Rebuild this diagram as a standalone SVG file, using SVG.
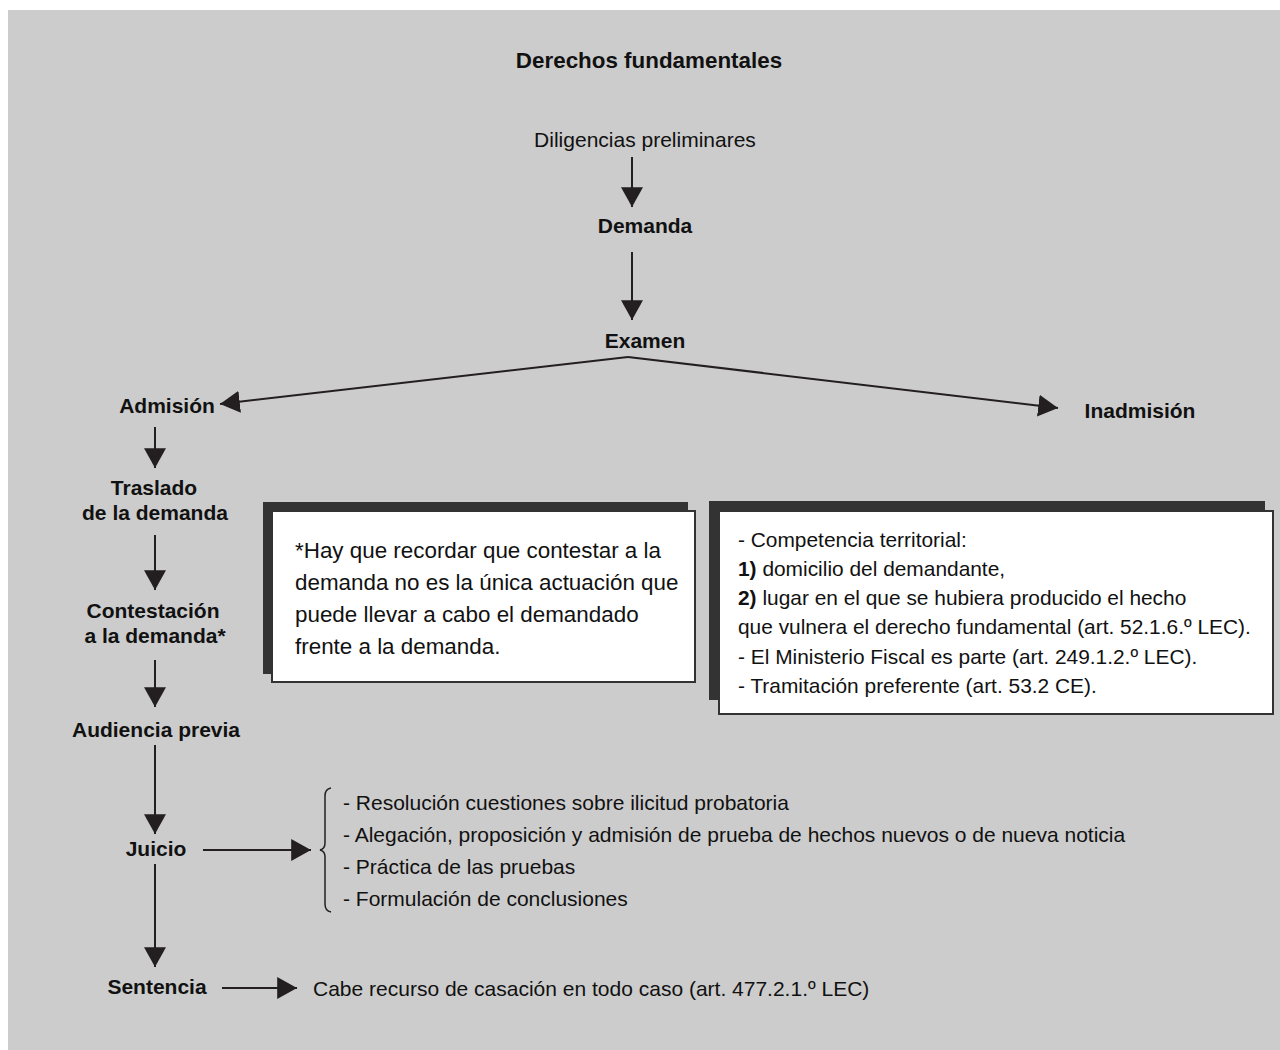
<svg xmlns="http://www.w3.org/2000/svg" width="1280" height="1050" viewBox="0 0 1280 1050">
<defs>
<marker id="ah" markerUnits="userSpaceOnUse" markerWidth="22" markerHeight="22" viewBox="0 0 20 20" refX="18" refY="10" orient="auto">
<path d="M0,0 L18,10 L0,20 Z" fill="#231f20"/>
</marker>
</defs>
<style>
.b{font-family:"Liberation Sans",Arial,sans-serif;font-weight:bold;font-size:21px;fill:#111;text-anchor:middle}
.n{font-family:"Liberation Sans",Arial,sans-serif;font-size:21px;fill:#111}
.c{stroke:#231f20;stroke-width:2;fill:none}
.sh{fill:#333}
.bx{fill:#fff;stroke:#333;stroke-width:2}
</style>
<rect x="8" y="10" width="1272" height="1040" fill="#cccccc"/>
<g id="title"><text class="b" style="font-size:22.4px" x="649" y="68">Derechos fundamentales</text></g>
<g id="diligencias"><text class="n" x="645" y="147" text-anchor="middle">Diligencias preliminares</text></g>
<g id="demanda"><text class="b" x="645" y="233">Demanda</text></g>
<g id="examen"><text class="b" x="645" y="348">Examen</text></g>
<g id="admision"><text class="b" x="167" y="413">Admisión</text></g>
<g id="inadmision"><text class="b" x="1140" y="418">Inadmisión</text></g>
<g id="traslado"><text class="b" x="154" y="495">Traslado</text><text class="b" x="155" y="520">de la demanda</text></g>
<g id="contestacion"><text class="b" x="153" y="618">Contestación</text><text class="b" x="155" y="643">a la demanda*</text></g>
<g id="audiencia"><text class="b" x="156" y="737">Audiencia previa</text></g>
<g id="juicio"><text class="b" x="156" y="856">Juicio</text></g>
<g id="sentencia"><text class="b" x="157" y="994">Sentencia</text></g>
<g id="nota">
<rect class="sh" x="263" y="502" width="425" height="172"/>
<rect class="bx" x="272" y="511" width="423" height="171"/>
<text class="n" style="font-size:22.4px" x="295" y="558">*Hay que recordar que contestar a la</text>
<text class="n" style="font-size:22.4px" x="295" y="590">demanda no es la única actuación que</text>
<text class="n" style="font-size:22.4px" x="295" y="622">puede llevar a cabo el demandado</text>
<text class="n" style="font-size:22.4px" x="295" y="654">frente a la demanda.</text>
</g>
<g id="competencia">
<rect class="sh" x="709" y="501" width="556" height="199"/>
<rect class="bx" x="719" y="511" width="554" height="203"/>
<text class="n" style="font-size:20.9px" x="738" y="547">- Competencia territorial:</text>
<text class="n" style="font-size:20.9px" x="738" y="576"><tspan font-weight="bold">1)</tspan> domicilio del demandante,</text>
<text class="n" style="font-size:20.9px" x="738" y="605"><tspan font-weight="bold">2)</tspan> lugar en el que se hubiera producido el hecho</text>
<text class="n" style="font-size:20.9px" x="738" y="634">que vulnera el derecho fundamental (art. 52.1.6.º LEC).</text>
<text class="n" style="font-size:20.9px" x="738" y="664">- El Ministerio Fiscal es parte (art. 249.1.2.º LEC).</text>
<text class="n" style="font-size:20.9px" x="738" y="693">- Tramitación preferente (art. 53.2 CE).</text>
</g>
<g id="juicio-lista">
<path class="c" style="stroke-width:1.5" d="M331,788 Q325,789 325,796 L325,843 Q325,849 320,850 Q325,851 325,857 L325,904 Q325,911 331,912"/>
<text class="n" x="343" y="810">- Resolución cuestiones sobre ilicitud probatoria</text>
<text class="n" x="343" y="842">- Alegación, proposición y admisión de prueba de hechos nuevos o de nueva noticia</text>
<text class="n" x="343" y="874">- Práctica de las pruebas</text>
<text class="n" x="343" y="906">- Formulación de conclusiones</text>
</g>
<g id="casacion"><text class="n" x="313" y="996">Cabe recurso de casación en todo caso (art. 477.2.1.º LEC)</text></g>
<g id="connectors">
<line class="c" x1="632" y1="157" x2="632" y2="207" marker-end="url(#ah)"/>
<line class="c" x1="632" y1="252" x2="632" y2="320" marker-end="url(#ah)"/>
<line class="c" x1="628" y1="357" x2="220" y2="404" marker-end="url(#ah)"/>
<line class="c" x1="628" y1="357" x2="1058" y2="408" marker-end="url(#ah)"/>
<line class="c" x1="155" y1="427" x2="155" y2="468" marker-end="url(#ah)"/>
<line class="c" x1="155" y1="535" x2="155" y2="590" marker-end="url(#ah)"/>
<line class="c" x1="155" y1="660" x2="155" y2="707" marker-end="url(#ah)"/>
<line class="c" x1="155" y1="745" x2="155" y2="834" marker-end="url(#ah)"/>
<line class="c" x1="155" y1="864" x2="155" y2="967" marker-end="url(#ah)"/>
<line class="c" x1="203" y1="850" x2="311" y2="850" marker-end="url(#ah)"/>
<line class="c" x1="222" y1="988" x2="297" y2="988" marker-end="url(#ah)"/>
</g>
</svg>
